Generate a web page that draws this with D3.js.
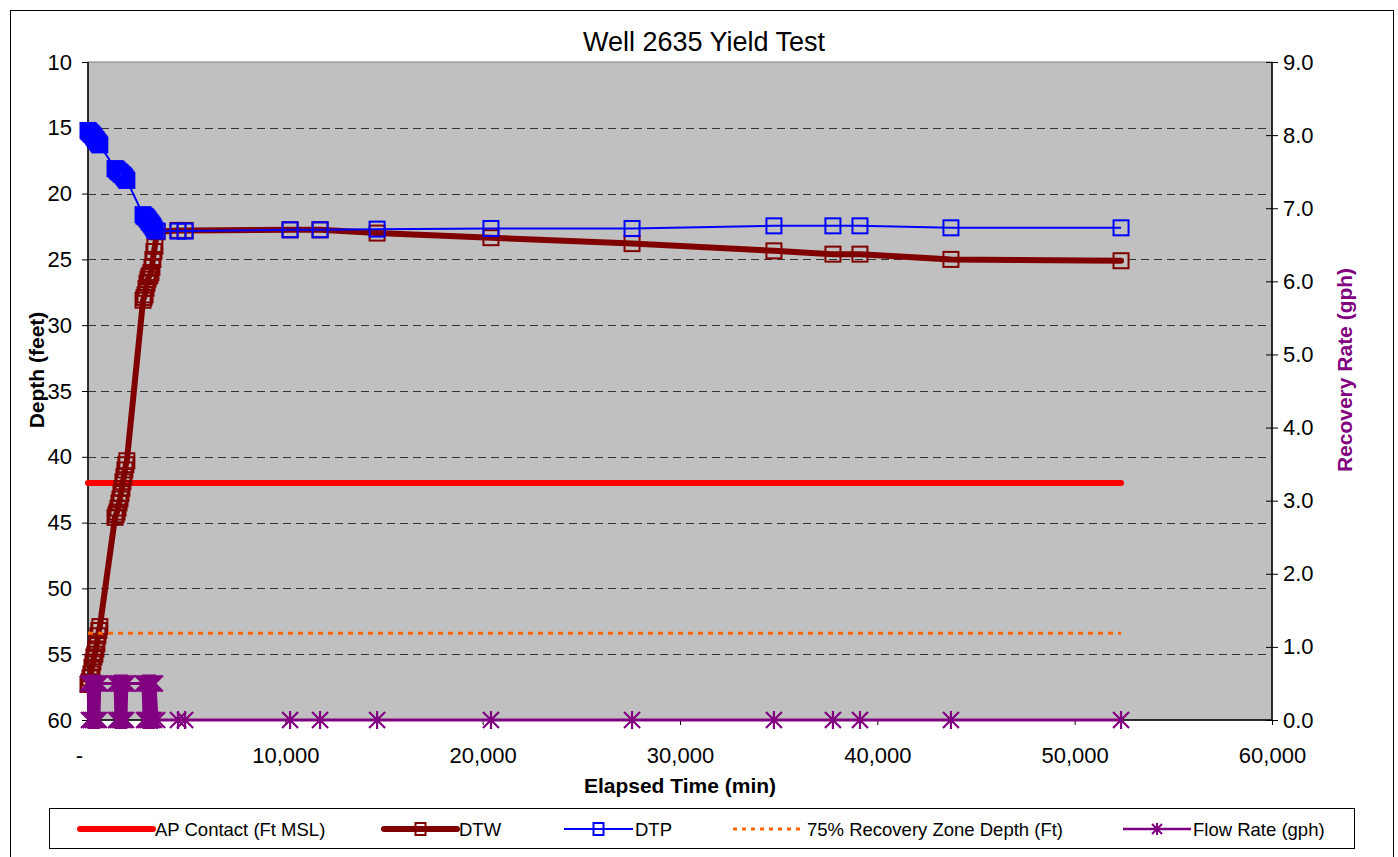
<!DOCTYPE html>
<html>
<head>
<meta charset="utf-8">
<script src="https://cdn.jsdelivr.net/npm/d3@7"></script>
<style>
  body { margin: 0; background: #fff; }
  svg { display: block; }
  text { font-family: "Liberation Sans", Arial, sans-serif; fill: #000; }
</style>
</head>
<body>
<svg id="chart" width="1398" height="857"></svg>
<script>
// Elapsed time of each reading (minutes)
const elapsedMin = [
  0, 50, 100, 150, 200, 250, 300, 350, 400, 450, 500, 550, 600,
  1370, 1420, 1470, 1520, 1570, 1620, 1670, 1720, 1770, 1820, 1870, 1920, 1970,
  2790, 2840, 2890, 2940, 2990, 3040, 3090, 3140, 3190, 3240, 3290, 3340, 3390,
  3500, 4560, 4920, 10240, 11760, 14650, 20420, 27570, 34760, 37750, 39120, 43730, 52350
];
// Depth to water (ft)
const dtw = [
  57.3, 57.1, 56.8, 56.5, 56.0, 55.6, 55.2, 55.0, 54.6, 54.2, 53.6, 53.2, 52.9,
  44.6, 44.4, 44.2, 43.9, 43.5, 43.2, 42.8, 42.4, 41.9, 41.5, 41.0, 40.6, 40.3,
  28.1, 27.9, 27.7, 27.2, 26.8, 26.5, 26.3, 26.2, 26.0, 25.6, 25.0, 24.4, 24.0,
  22.9, 22.8, 22.8, 22.75, 22.75, 23.0, 23.35, 23.8, 24.35, 24.6, 24.6, 25.0, 25.1
];
// Depth to product (ft)
const dtp = [
  15.2, 15.3, 15.35, 15.45, 15.5, 15.6, 15.7, 15.8, 15.9, 16.0, 16.1, 16.2, 16.3,
  18.1, 18.15, 18.2, 18.3, 18.35, 18.4, 18.5, 18.55, 18.6, 18.7, 18.8, 18.9, 19.0,
  21.6, 21.7, 21.75, 21.8, 21.9, 22.0, 22.1, 22.2, 22.3, 22.4, 22.5, 22.65, 22.8,
  22.85, 22.85, 22.85, 22.75, 22.75, 22.7, 22.65, 22.65, 22.45, 22.45, 22.45, 22.6, 22.6
];
// Recovery / flow rate (gph)
const flowRate = [
  0.5, 0, 0.5, 0, 0.5, 0, 0.5, 0, 0.5, 0, 0.5, 0, 0.5,
  0.5, 0, 0.5, 0, 0.5, 0, 0.5, 0, 0.5, 0, 0.5, 0, 0.5,
  0.5, 0, 0.5, 0, 0.5, 0, 0.5, 0, 0.5, 0, 0.5, 0, 0.5,
  0, 0, 0, 0, 0, 0, 0, 0, 0, 0, 0, 0, 0
];
const apContactFt = [42, 42];          // AP contact depth, first to last reading
const recoveryZoneFt = [53.4, 53.4];   // 75% recovery zone depth
const depthTicks = [10, 15, 20, 25, 30, 35, 40, 45, 50, 55, 60];
const rateTicks = [0, 1, 2, 3, 4, 5, 6, 7, 8, 9];
const timeTicks = [0, 10000, 20000, 30000, 40000, 50000, 60000];
const legendLabels = ["AP Contact (Ft MSL)", "DTW", "DTP", "75% Recovery Zone Depth (Ft)", "Flow Rate (gph)"];

const svg = d3.select("#chart");
const plot = { left: 88, right: 1272, top: 62, bottom: 720 };

const x = d3.scaleLinear().domain([0, 60000]).range([plot.left, plot.right]);
const y = d3.scaleLinear().domain([10, 60]).range([plot.top, plot.bottom]);
const y2 = d3.scaleLinear().domain([0, 9]).range([plot.bottom, plot.top]);

// outer chart frame
svg.append("rect").attr("x", 10.5).attr("y", 10.5).attr("width", 1383).attr("height", 870)
  .attr("fill", "none").attr("stroke", "#000").attr("stroke-width", 1);

// plot background
svg.append("rect").attr("x", plot.left).attr("y", plot.top)
  .attr("width", plot.right - plot.left).attr("height", plot.bottom - plot.top)
  .attr("fill", "#c0c0c0").attr("stroke", "#808080").attr("stroke-width", 1);

// dashed horizontal gridlines
svg.append("g").selectAll("line").data(depthTicks.slice(1, -1)).join("line")
  .attr("x1", plot.left).attr("x2", plot.right)
  .attr("y1", d => Math.round(y(d)) + 0.5).attr("y2", d => Math.round(y(d)) + 0.5)
  .attr("stroke", "#333").attr("stroke-width", 1).attr("stroke-dasharray", "8,5");

// axes
const fmtTime = d => d === 0 ? "-" : d3.format(",")(d);
const gx = svg.append("g").attr("transform", `translate(0,${plot.bottom})`)
  .call(d3.axisBottom(x).tickValues(timeTicks).tickFormat(fmtTime).tickSize(5).tickPadding(22));
const gy = svg.append("g").attr("transform", `translate(${plot.left},0)`)
  .call(d3.axisLeft(y).tickValues(depthTicks).tickFormat(d3.format("d")).tickSize(6).tickPadding(10));
const gy2 = svg.append("g").attr("transform", `translate(${plot.right},0)`)
  .call(d3.axisRight(y2).tickValues(rateTicks).tickFormat(d3.format(".1f")).tickSize(6).tickPadding(5));
gy2.selectAll(".tick line").attr("x1", -6);
[gx, gy, gy2].forEach(g => {
  g.select(".domain").attr("stroke", "#000").attr("stroke-width", 1.5);
  g.selectAll(".tick line").attr("stroke", "#000");
  g.selectAll(".tick text").attr("font-size", 22).attr("font-family", '"Liberation Sans", Arial, sans-serif');
});
gx.selectAll(".tick text").filter(d => d === 0).attr("dx", -9);
gx.select(".domain").attr("d", `M${plot.left},0H${plot.right}`);
gy.select(".domain").attr("d", `M0,${plot.top}V${plot.bottom}`);
gy2.select(".domain").attr("d", `M0,${plot.top}V${plot.bottom}`);

// titles
svg.append("text").attr("x", 704).attr("y", 51).attr("text-anchor", "middle")
  .attr("font-size", 27).text("Well 2635 Yield Test");
svg.append("text").attr("x", 680).attr("y", 793).attr("text-anchor", "middle")
  .attr("font-size", 21).attr("font-weight", "bold").text("Elapsed Time (min)");
svg.append("text").attr("transform", "translate(44,370) rotate(-90)").attr("text-anchor", "middle")
  .attr("font-size", 21).attr("font-weight", "bold").text("Depth (feet)");
svg.append("text").attr("transform", "translate(1352,370) rotate(-90)").attr("text-anchor", "middle")
  .attr("font-size", 21).attr("font-weight", "bold").style("fill", "#800080").text("Recovery Rate (gph)");

const idx = d3.range(elapsedMin.length);
const span = [elapsedMin[0], elapsedMin[elapsedMin.length - 1]];
const half = 7.5;

// AP contact
svg.append("path").datum(apContactFt)
  .attr("d", d3.line().x((d, i) => x(span[i])).y(d => y(d)))
  .attr("fill", "none").attr("stroke", "#ff0000").attr("stroke-width", 6).attr("stroke-linecap", "round");

// DTW
svg.append("path").datum(idx)
  .attr("d", d3.line().x(i => x(elapsedMin[i])).y(i => y(dtw[i])))
  .attr("fill", "none").attr("stroke", "#800000").attr("stroke-width", 6)
  .attr("stroke-linejoin", "round").attr("stroke-linecap", "round");
svg.append("g").selectAll("rect").data(idx).join("rect")
  .attr("x", i => x(elapsedMin[i]) - half).attr("y", i => y(dtw[i]) - half)
  .attr("width", 2 * half).attr("height", 2 * half)
  .attr("fill", "none").attr("stroke", "#800000").attr("stroke-width", 2);

// DTP
svg.append("path").datum(idx)
  .attr("d", d3.line().x(i => x(elapsedMin[i])).y(i => y(dtp[i])))
  .attr("fill", "none").attr("stroke", "#0000ff").attr("stroke-width", 2);
svg.append("g").selectAll("rect").data(idx).join("rect")
  .attr("x", i => x(elapsedMin[i]) - half).attr("y", i => y(dtp[i]) - half)
  .attr("width", 2 * half).attr("height", 2 * half)
  .attr("fill", "none").attr("stroke", "#0000ff").attr("stroke-width", 2);

// 75% recovery zone
svg.append("path").datum(recoveryZoneFt)
  .attr("d", d3.line().x((d, i) => x(span[i])).y(d => y(d)))
  .attr("fill", "none").attr("stroke", "#ff6600").attr("stroke-width", 3).attr("stroke-dasharray", "5,5");

// flow rate (secondary axis)
const star = "M-8,-8L8,8M-8,8L8,-8M0,-9V9";
svg.append("path").datum(idx)
  .attr("d", d3.line().x(i => x(elapsedMin[i])).y(i => y2(flowRate[i])))
  .attr("fill", "none").attr("stroke", "#800080").attr("stroke-width", 3);
svg.append("g").selectAll("path").data(idx).join("path")
  .attr("transform", i => `translate(${x(elapsedMin[i])},${y2(flowRate[i])})`)
  .attr("d", star).attr("fill", "none").attr("stroke", "#800080").attr("stroke-width", 2.2);

// legend
const lg = svg.append("g");
lg.append("rect").attr("x", 49.5).attr("y", 808.5).attr("width", 1305).attr("height", 40)
  .attr("fill", "#fff").attr("stroke", "#000").attr("stroke-width", 1);
const legendX = [80, 384, 564, 733, 1123];
const legendLen = [73, 73, 69, 72, 68];
const ly = 829;
const styles = [
  { color: "#ff0000", w: 6, dash: null, marker: null, cap: "round" },
  { color: "#800000", w: 6, dash: null, marker: "sq", cap: "round" },
  { color: "#0000ff", w: 2, dash: null, marker: "sq", cap: "butt" },
  { color: "#ff6600", w: 3, dash: "4,5", marker: null, cap: "butt" },
  { color: "#800080", w: 2.5, dash: null, marker: "star", cap: "butt" }
];
legendLabels.forEach((label, k) => {
  const s = styles[k], x0 = legendX[k], x1 = x0 + legendLen[k], xm = (x0 + x1) / 2;
  lg.append("line").attr("x1", x0).attr("x2", x1).attr("y1", ly).attr("y2", ly)
    .attr("stroke", s.color).attr("stroke-width", s.w).attr("stroke-linecap", s.cap)
    .attr("stroke-dasharray", s.dash);
  if (s.marker === "sq") {
    lg.append("rect").attr("x", xm - 5).attr("y", ly - 6).attr("width", 10).attr("height", 12)
      .attr("fill", "none").attr("stroke", s.color).attr("stroke-width", 2);
  } else if (s.marker === "star") {
    lg.append("path").attr("transform", `translate(${xm},${ly})`).attr("d", "M-5,-5L5,5M-5,5L5,-5M0,-6V6")
      .attr("fill", "none").attr("stroke", s.color).attr("stroke-width", 2);
  }
  lg.append("text").attr("x", x1 + 2).attr("y", ly + 7).attr("font-size", 18.5).text(label);
});
</script>
</body>
</html>
